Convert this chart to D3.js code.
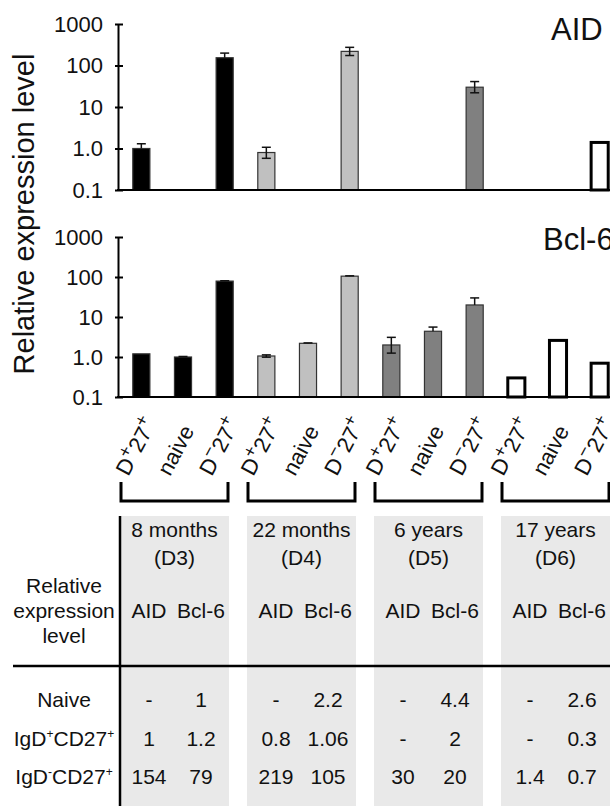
<!DOCTYPE html>
<html>
<head>
<meta charset="utf-8">
<script src="https://cdn.jsdelivr.net/npm/d3@7/dist/d3.min.js"></script>
<style>
  body { margin: 0; background: #fff; }
  svg { display: block; font-family: 'Liberation Sans', Arial, sans-serif; }
</style>
</head>
<body>
<div id="field"></div>
<script>
'use strict';

// values per bar, in the order D+27+, naive, D-27+ for each donor
const donors = ['8 months', '22 months', '6 years', '17 years'];
const donorIds = ['(D3)', '(D4)', '(D5)', '(D6)'];
const subsets = ['D+27+', 'naive', 'D-27+'];
const aid = [1, null, 154, 0.8, null, 219, null, null, 30, null, null, 1.4];
const aidErrUp = [0.3, null, 45, 0.27, null, 55, null, null, 11, null, null, null];
const aidErrLow = [null, null, null, 0.22, null, 45, null, null, 8, null, null, null];
const bcl6 = [1.2, 1, 79, 1.06, 2.2, 105, 2, 4.4, 20, 0.3, 2.6, 0.7];
const bcl6ErrUp = [null, 0.03, 1.5, 0.07, 0.05, 2, 1.1, 1.2, 10, null, null, null];
const bcl6ErrLow = [null, null, null, 0.07, null, null, 0.75, null, null, null, null, null];
const tickValues = [0.1, 1, 10, 100, 1000];
const tickLabels = ['0.1', '1.0', '10', '100', '1000'];
const rowNames = ['Naive', 'IgD+CD27+', 'IgD-CD27+'];
const rowSubset = [1, 0, 2];
const groupFill = ['#000000', '#c0c0c0', '#808080', '#ffffff'];

function RelChart(setting) {
  let w = setting.w,
      h = setting.h,
      slots = d3.range(donors.length * subsets.length),
      svg = d3.select('#field').append('svg').attr('width', w).attr('height', h),
      x = d3.scaleBand().domain(slots).range([120.5, 620.5]).paddingInner(0.59).paddingOuter(0.295),
      groups = d3.scaleBand().domain(donors).range([121, 609]).paddingInner(0.1575);

  function mid(i) { return x(i) + x.bandwidth() / 2; }

  function panel(values, up, low, top, bottom, title, tx, ty) {
    let y = d3.scaleLog().domain([0.1, 1000]).range([bottom, top]),
        g = svg.append('g');

    let axis = g.append('g').attr('transform', 'translate(118,0)')
      .call(d3.axisLeft(y).tickValues(tickValues).tickSize(5).tickSizeOuter(0).tickPadding(10)
        .tickFormat(function(d, i){ return tickLabels[i]; }));
    axis.select('.domain').attr('stroke', '#000').attr('stroke-width', 2);
    axis.selectAll('.tick line').attr('x1', -3).attr('x2', 5).attr('stroke-width', 2);
    axis.selectAll('.tick text').attr('font-size', 22).attr('fill', '#111').attr('font-family', "'Liberation Sans', Arial, sans-serif");

    let data = slots.filter(function(i){ return values[i] != null; });

    g.selectAll('rect.bar').data(data).enter().append('rect').attr('class', 'bar')
      .attr('x', function(i){ return x(i); })
      .attr('width', x.bandwidth())
      .attr('y', function(i){ return y(values[i]); })
      .attr('height', function(i){ return bottom - y(values[i]); })
      .attr('fill', function(i){ return groupFill[Math.floor(i / 3)]; })
      .attr('stroke', function(i){ return Math.floor(i / 3) === 3 ? '#000' : '#333'; })
      .attr('stroke-width', function(i){ return Math.floor(i / 3) === 3 ? 3 : 1.2; });

    let ed = data.filter(function(i){ return up[i] != null; }),
        eg = g.selectAll('g.err').data(ed).enter().append('g').attr('class', 'err')
          .attr('stroke', '#111').attr('stroke-width', 1.5);
    eg.append('line')
      .attr('x1', mid).attr('x2', mid)
      .attr('y1', function(i){ return y(values[i] + up[i]); })
      .attr('y2', function(i){ return y(values[i] - (low[i] || 0)); });
    eg.append('line')
      .attr('x1', function(i){ return mid(i) - 4.5; })
      .attr('x2', function(i){ return mid(i) + 4.5; })
      .attr('y1', function(i){ return y(values[i] + up[i]); })
      .attr('y2', function(i){ return y(values[i] + up[i]); });
    eg.filter(function(i){ return low[i] != null; }).append('line')
      .attr('x1', function(i){ return mid(i) - 4.5; })
      .attr('x2', function(i){ return mid(i) + 4.5; })
      .attr('y1', function(i){ return y(values[i] - low[i]); })
      .attr('y2', function(i){ return y(values[i] - low[i]); });

    g.append('line').attr('x1', 117).attr('x2', w).attr('y1', bottom).attr('y2', bottom)
      .attr('stroke', '#000').attr('stroke-width', 2);
    g.append('text').text(title).attr('x', tx).attr('y', ty).attr('font-size', 31).attr('fill', '#111');
  }

  function supLabel(sel, parts, size, lift) {
    parts.forEach(function(p) {
      if (p.sup) {
        sel.append('tspan').text(p.t).attr('font-size', size).attr('dy', -lift);
        sel.append('tspan').text('\u200b').attr('dy', lift);
      } else {
        sel.append('tspan').text(p.t);
      }
    });
  }

  function splitLabel(s) {
    // 'D+27+' -> D, sup +, 27, sup +
    let m = s.match(/^(.*?D)([+-])(.*?)([+-])$/);
    if (!m) return [{ t: s }];
    return [{ t: m[1] }, { t: m[2] === '-' ? '\u2212' : '+', sup: true }, { t: m[3] }, { t: '+', sup: true }];
  }

  panel(aid, aidErrUp, aidErrLow, 24, 190, 'AID', 551, 40);
  panel(bcl6, bcl6ErrUp, bcl6ErrLow, 237, 397, 'Bcl-6', 543, 250);

  svg.append('text').text('Relative expression level')
    .attr('transform', 'translate(34,214) rotate(-90)')
    .attr('text-anchor', 'middle').attr('font-size', 29).attr('fill', '#111');

  // rotated category labels
  slots.forEach(function(i) {
    let cx = mid(i) - 13,
        t = svg.append('text').attr('font-size', 22).attr('fill', '#111')
          .attr('transform', 'translate(' + cx + ',477) rotate(-62)');
    supLabel(t, splitLabel(subsets[i % 3]), 18, 9);
  });

  // brackets
  donors.forEach(function(d) {
    let l = groups(d), r = groups(d) + groups.bandwidth();
    svg.append('path').attr('d', 'M' + l + ',482V501H' + r + 'V482')
      .attr('fill', 'none').attr('stroke', '#000').attr('stroke-width', 3);
  });

  // table
  let fs = 21,
      t = svg.append('g').attr('font-size', fs).attr('fill', '#111').attr('text-anchor', 'middle');
  t.selectAll('rect').data(donors).enter().append('rect')
    .attr('x', function(d){ return groups(d) - 1; })
    .attr('width', groups.bandwidth() + 2)
    .attr('y', 516).attr('height', h - 516).attr('fill', '#e9e9e9');
  t.append('line').attr('x1', 120).attr('x2', 120).attr('y1', 516).attr('y2', h)
    .attr('stroke', '#000').attr('stroke-width', 2.5);
  t.append('line').attr('x1', 13).attr('x2', w).attr('y1', 666).attr('y2', 666)
    .attr('stroke', '#000').attr('stroke-width', 2.5);

  ['Relative', 'expression', 'level'].forEach(function(s, k) {
    t.append('text').text(s).attr('x', 64).attr('y', 593 + k * 25);
  });

  donors.forEach(function(d, di) {
    let c = groups(d) + groups.bandwidth() / 2,
        ax = groups(d) + 28,
        bx = groups(d) + 80;
    t.append('text').text(d).attr('x', c).attr('y', 537);
    t.append('text').text(donorIds[di]).attr('x', c).attr('y', 565);
    t.append('text').text('AID').attr('x', ax).attr('y', 618);
    t.append('text').text('Bcl-6').attr('x', bx).attr('y', 618);
    rowSubset.forEach(function(s, r) {
      let slot = di * 3 + s,
          yy = 707 + r * 38.5;
      t.append('text').text(aid[slot] == null ? '-' : String(aid[slot])).attr('x', ax).attr('y', yy);
      t.append('text').text(bcl6[slot] == null ? '-' : String(bcl6[slot])).attr('x', bx).attr('y', yy);
    });
  });

  rowNames.forEach(function(s, r) {
    let tx = t.append('text').attr('x', 64).attr('y', 707 + r * 38.5),
        m = s.match(/^IgD([+-])CD27\+$/);
    if (!m) { tx.text(s); return; }
    tx.append('tspan').text('IgD');
    tx.append('tspan').text(m[1] === '-' ? '-' : '+').attr('font-size', 12).attr('dy', -8);
    tx.append('tspan').text('CD27').attr('dy', 8);
    tx.append('tspan').text('+').attr('font-size', 12).attr('dy', -8);
  });
}

let relChart = new RelChart({
  w: 610,
  h: 806
});
</script>
</body>
</html>
